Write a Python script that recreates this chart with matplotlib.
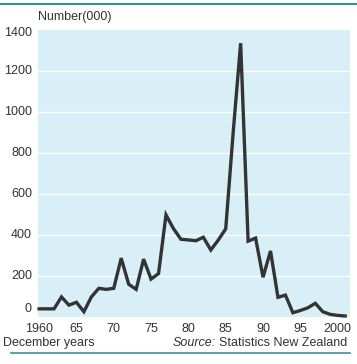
import matplotlib
matplotlib.use('Agg')
from matplotlib import pyplot as plt
from matplotlib.lines import Line2D
from matplotlib.transforms import blended_transform_factory, offset_copy

plt.rcParams['font.family'] = ['Liberation Sans', 'DejaVu Sans']

years = list(range(1960, 2002))
values = [40, 40, 40, 98, 58, 72, 26, 98, 140, 135,
          140, 287, 160, 135, 282, 185, 212, 498, 431, 379,
          376, 372, 389, 327, 375, 430, 900, 1335, 370, 385,
          194, 322, 96, 107, 21, 32, 45, 67, 26, 13,
          8, 5]

yticks = [0, 200, 400, 600, 800, 1000, 1200, 1400]
xticks = [1960, 1965, 1970, 1975, 1980, 1985, 1990, 1995, 2000]
xlabels = ['1960', '65', '70', '75', '80', '85', '90', '95', '2000']

txt = '#333333'
rule = '#3f8f9a'

fig = plt.figure(figsize=(3.57, 3.64), dpi=100)
ax = fig.add_axes([0.1064, 0.129, 0.874, 0.789])
ax.set_facecolor('#d9eff8')

for v in yticks[1:-1]:
    ax.axhline(v, color='white', lw=1, zorder=1)

ax.plot(years, values, color='#333333', lw=2.4, zorder=3,
        solid_joinstyle='miter', clip_on=False)

ax.set_xlim(1959.85, 2001.65)
ax.set_ylim(0, 1400)
ax.set_xticks(xticks)
ax.set_xticklabels(xlabels)
ax.set_yticks([])
ax.tick_params(length=0, labelsize=9, colors=txt)
ax.tick_params(axis='x', pad=4)
for s in ax.spines.values():
    s.set_visible(False)

# y labels drawn by hand: the end ones sit a little inside the plot, as in the print
ytr = blended_transform_factory(ax.transAxes, ax.transData)
for v in yticks:
    dy = 0
    if v == yticks[0]:
        dy = 8
    elif v == yticks[-1]:
        dy = -3
    tr = offset_copy(ytr, fig=fig, x=-6, y=dy, units='dots')
    ax.text(0, v, str(v), transform=tr, ha='right', va='center',
            fontsize=9, color=txt)

fig.text(0.1064, 0.953, 'Number(000)', fontsize=9, color=txt, va='center')
fig.text(0.008, 0.058, 'December years', fontsize=9, color=txt, va='center')
src = fig.text(0.973, 0.058, 'Statistics New Zealand', fontsize=9, color=txt,
               va='center', ha='right')
fig.canvas.draw()
bb = src.get_window_extent()
fig.text((bb.x0 - 3) / fig.bbox.width, 0.058, 'Source:', fontsize=9, color=txt,
         va='center', ha='right', style='italic')

fig.add_artist(Line2D([0.0, 1.0], [0.989, 0.989], color=rule, lw=1.5))
fig.add_artist(Line2D([0.03, 0.98], [0.030, 0.030], color=rule, lw=1.2))

fig.savefig('out.png', dpi=100)
